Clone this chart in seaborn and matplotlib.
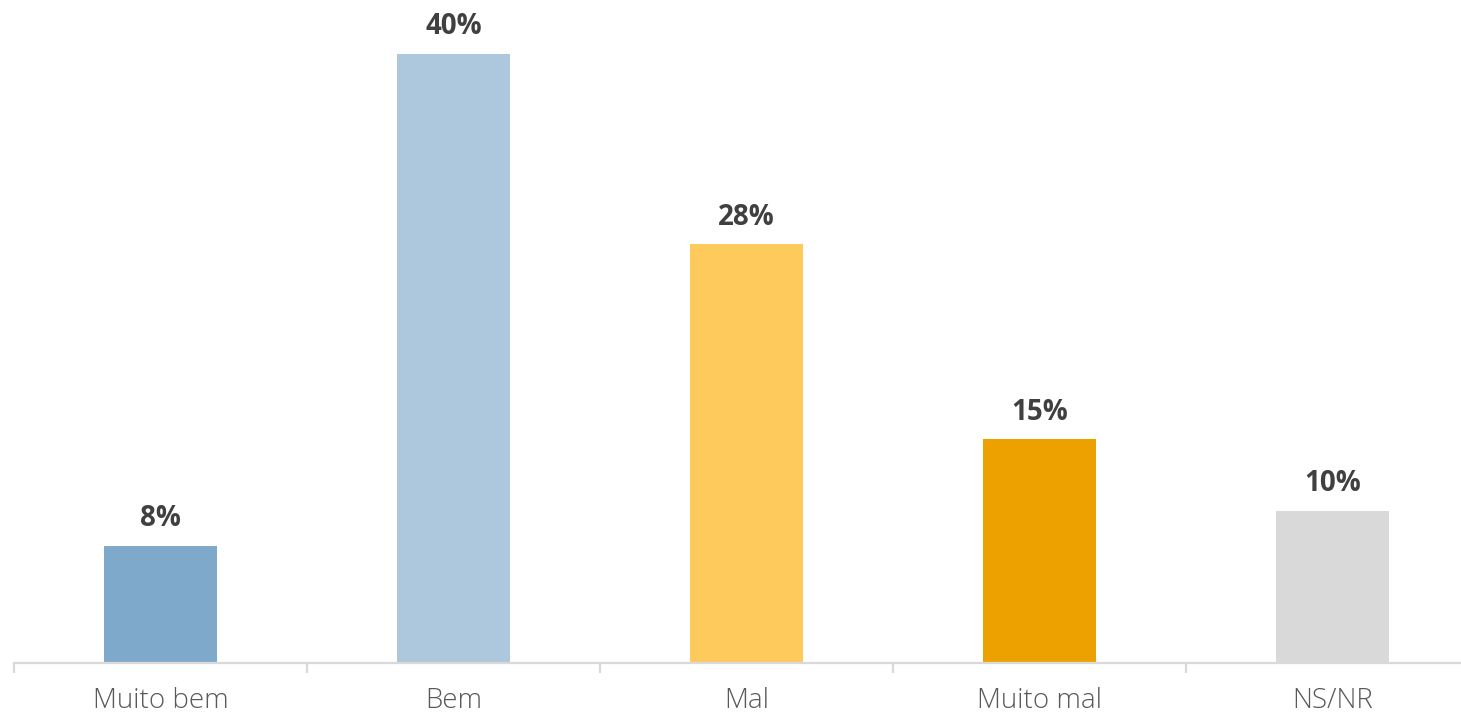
import pandas as pd
import seaborn as sns
import matplotlib.pyplot as plt
import numpy as np

# Data
categories = ["Muito bem", "Bem", "Mal", "Muito mal", "NS/NR"]
values = [7.7, 40.0, 27.5, 14.7, 10.0]
value_labels = ["8%", "40%", "28%", "15%", "10%"]
colors = ["#7FA9CB", "#ADC8DD", "#FECA5C", "#EDA100", "#D9D9D9"]

df = pd.DataFrame({"cat": categories, "val": values})

sns.set_style("white")
plt.rcParams['font.family'] = ['Open Sans', 'DejaVu Sans']

fig = plt.figure(figsize=(14.61, 7.18), dpi=100)
# axes runs a little past the right edge, like the cropped original
ax = fig.add_axes([14 / 1461, 55 / 718, 1465 / 1461, 663 / 718])

sns.barplot(data=df, x="cat", y="val", hue="cat", palette=colors,
            width=0.385, legend=False, ax=ax, saturation=1, linewidth=0)

ax.set_ylim(0, 40 * 663 / 609)
ax.set_xlim(-0.5, len(categories) - 0.5)

# value labels on top of bars
for cont, lab in zip(ax.containers, value_labels):
    ax.bar_label(cont, labels=[lab], padding=9, fontsize=20,
                 fontweight='bold', color='#404040')

# axis styling
for s in ["top", "right", "left"]:
    ax.spines[s].set_visible(False)
ax.spines["bottom"].set_color("#D9D9D9")
ax.spines["bottom"].set_linewidth(1.6)
ax.set_yticks([])
ax.set_xlabel("")
ax.set_ylabel("")

ax.tick_params(axis='x', which='major', length=0, pad=17,
               labelsize=20, labelcolor='#595959')
for t in ax.get_xticklabels():
    t.set_fontweight('light')
ax.set_xticks(np.arange(-0.5, len(categories), 1), minor=True)
ax.tick_params(axis='x', which='minor', bottom=True, length=7, width=1.6,
               color='#D9D9D9')

fig.savefig("out.png", dpi=100)
